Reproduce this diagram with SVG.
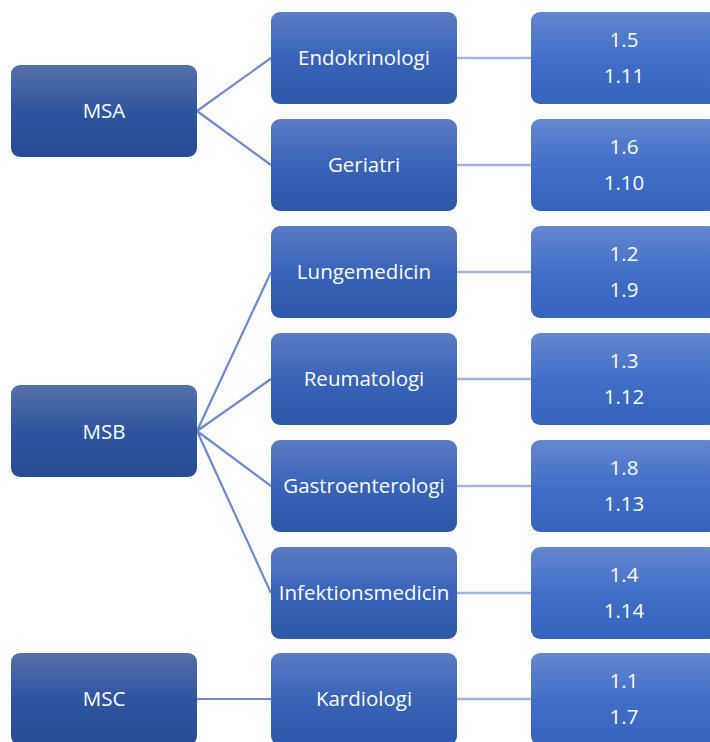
<svg xmlns="http://www.w3.org/2000/svg" width="710" height="742" viewBox="0 0 710 742">
<defs>
<linearGradient id="gL" x1="0" y1="0" x2="0" y2="1"><stop offset="0" stop-color="#5670aa"/><stop offset="0.5" stop-color="#2f55a0"/><stop offset="1" stop-color="#264c94"/></linearGradient>
<linearGradient id="gM" x1="0" y1="0" x2="0" y2="1"><stop offset="0" stop-color="#5c7cc4"/><stop offset="0.5" stop-color="#3863b8"/><stop offset="1" stop-color="#2d58a8"/></linearGradient>
<linearGradient id="gR" x1="0" y1="0" x2="0" y2="1"><stop offset="0" stop-color="#6587cf"/><stop offset="0.5" stop-color="#416fc8"/><stop offset="1" stop-color="#3663bb"/></linearGradient>
<style>
.l{fill:url(#gL)}
.m{fill:url(#gM)}
.r{fill:url(#gR)}
text{font-family:"Open Sans","Liberation Sans",sans-serif;font-size:20.5px;fill:#ffffff;text-anchor:middle;dominant-baseline:central}
.c1{stroke:#6e88cc;stroke-width:2.2;fill:none}
.c2{stroke:#a3b4dc;stroke-width:2.5;fill:none}
</style>
</defs>
<g id="connectors">
<path class="c1" d="M197 111L271 58M197 111L271 165"/>
<path class="c1" d="M197 431L271 272M197 431L271 379M197 431L271 486M197 431L271 593"/>
<path class="c1" d="M197 699L271 699"/>
<path class="c2" d="M457 58H531M457 165H531M457 272H531M457 379H531M457 486H531M457 593H531M457 699H531"/>
</g>
<g id="MSA"><rect class="l" x="11" y="65" width="186" height="92" rx="9"/><text x="104" y="110">MSA</text></g>
<g id="MSB"><rect class="l" x="11" y="385" width="186" height="92" rx="9"/><text x="104" y="431">MSB</text></g>
<g id="MSC"><rect class="l" x="11" y="653" width="186" height="92" rx="9"/><text x="104" y="698">MSC</text></g>
<g id="Endokrinologi"><rect class="m" x="271" y="12" width="186" height="92" rx="9"/><text x="364" y="57">Endokrinologi</text></g>
<g id="Geriatri"><rect class="m" x="271" y="119" width="186" height="92" rx="9"/><text x="364" y="164">Geriatri</text></g>
<g id="Lungemedicin"><rect class="m" x="271" y="226" width="186" height="92" rx="9"/><text x="364" y="271">Lungemedicin</text></g>
<g id="Reumatologi"><rect class="m" x="271" y="333" width="186" height="92" rx="9"/><text x="364" y="378">Reumatologi</text></g>
<g id="Gastroenterologi"><rect class="m" x="271" y="440" width="186" height="92" rx="9"/><text x="364" y="485">Gastroenterologi</text></g>
<g id="Infektionsmedicin"><rect class="m" x="271" y="547" width="186" height="92" rx="9"/><text x="364" y="592">Infektionsmedicin</text></g>
<g id="Kardiologi"><rect class="m" x="271" y="653" width="186" height="92" rx="9"/><text x="364" y="698">Kardiologi</text></g>
<g id="R1"><rect class="r" x="531" y="12" width="186" height="92" rx="9"/><text x="624" y="39">1.5</text><text x="624" y="75">1.11</text></g>
<g id="R2"><rect class="r" x="531" y="119" width="186" height="92" rx="9"/><text x="624" y="146">1.6</text><text x="624" y="182">1.10</text></g>
<g id="R3"><rect class="r" x="531" y="226" width="186" height="92" rx="9"/><text x="624" y="253">1.2</text><text x="624" y="289">1.9</text></g>
<g id="R4"><rect class="r" x="531" y="333" width="186" height="92" rx="9"/><text x="624" y="360">1.3</text><text x="624" y="396">1.12</text></g>
<g id="R5"><rect class="r" x="531" y="440" width="186" height="92" rx="9"/><text x="624" y="467">1.8</text><text x="624" y="503">1.13</text></g>
<g id="R6"><rect class="r" x="531" y="547" width="186" height="92" rx="9"/><text x="624" y="574">1.4</text><text x="624" y="610">1.14</text></g>
<g id="R7"><rect class="r" x="531" y="653" width="186" height="92" rx="9"/><text x="624" y="680">1.1</text><text x="624" y="716">1.7</text></g>
</svg>
